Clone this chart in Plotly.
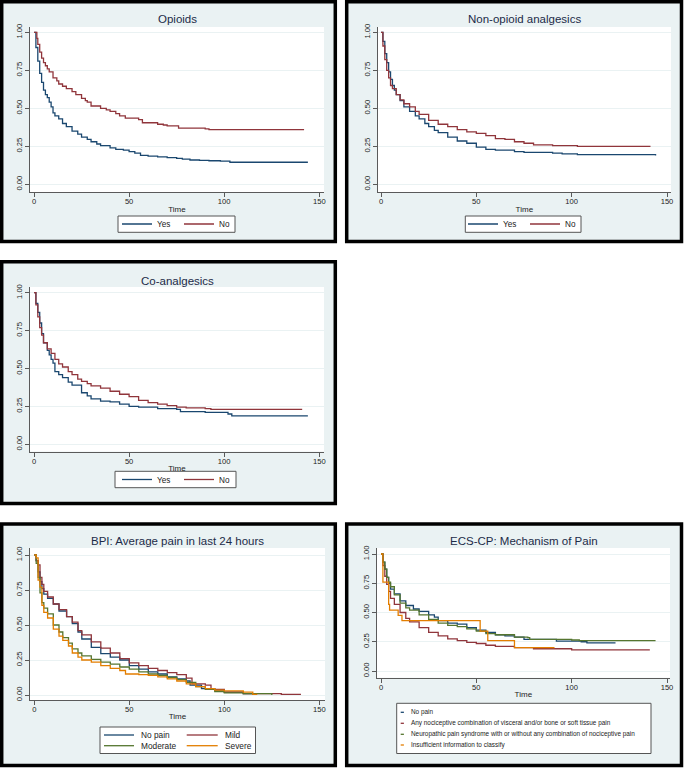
import plotly.graph_objects as go

# ---------------- data ----------------
time_ticks = [0, 50, 100, 150]
surv_ticks = [0.0, 0.25, 0.50, 0.75, 1.00]

panel_titles = ["Opioids", "Non-opioid analgesics", "Co-analgesics",
                "BPI: Average pain in last 24 hours", "ECS-CP: Mechanism of Pain"]
x_title = "Time"

yes_no_labels = ["Yes", "No"]
bpi_labels = ["No pain", "Mild", "Moderate", "Severe"]
ecs_labels = ["No pain",
              "Any nociceptive combination of visceral and/or bone or soft tissue pain",
              "Neuropathic pain syndrome with or without any combination of nociceptive pain",
              "Insufficient information to classify"]

# Opioids
opioid_yes_t = [0, 1, 2, 3, 4, 5, 6, 7, 8, 9, 10, 11, 13, 15, 17, 20, 23, 25, 28, 30, 33, 35, 40, 43, 47, 50, 53, 56, 60, 65, 70, 75, 78, 82, 87, 92, 98, 103, 144]
opioid_yes_s = [1.0, 0.90, 0.81, 0.73, 0.67, 0.62, 0.59, 0.57, 0.54, 0.51, 0.47, 0.45, 0.43, 0.40, 0.38, 0.35, 0.33, 0.31, 0.295, 0.28, 0.265, 0.255, 0.24, 0.23, 0.225, 0.215, 0.205, 0.19, 0.185, 0.18, 0.175, 0.17, 0.165, 0.16, 0.158, 0.155, 0.153, 0.145, 0.145]
opioid_no_t = [0, 1, 1.5, 2, 3, 4, 5, 6, 7, 8, 10, 12, 13, 15, 17, 20, 22, 25, 27, 28, 30, 35, 38, 40, 43, 45, 48, 55, 57, 65, 68, 70, 76, 90, 92, 142]
opioid_no_s = [1.0, 1.0, 0.96, 0.92, 0.87, 0.83, 0.80, 0.78, 0.76, 0.74, 0.70, 0.68, 0.66, 0.645, 0.63, 0.61, 0.59, 0.565, 0.55, 0.54, 0.515, 0.50, 0.49, 0.48, 0.465, 0.45, 0.435, 0.425, 0.405, 0.395, 0.39, 0.385, 0.37, 0.365, 0.36, 0.36]

# Non-opioid analgesics
nonop_yes_t = [0, 1, 2, 3, 4, 5, 6, 7, 8, 10, 12, 15, 18, 20, 23, 25, 28, 30, 35, 40, 45, 50, 55, 60, 70, 75, 90, 95, 103, 144]
nonop_yes_s = [1.0, 0.94, 0.86, 0.80, 0.74, 0.69, 0.65, 0.62, 0.59, 0.55, 0.51, 0.48, 0.45, 0.43, 0.40, 0.38, 0.355, 0.34, 0.31, 0.285, 0.27, 0.245, 0.23, 0.225, 0.215, 0.21, 0.205, 0.20, 0.195, 0.19]
nonop_no_t = [0, 1, 2, 3, 4, 5, 6, 8, 10, 12, 15, 18, 20, 25, 30, 35, 40, 45, 50, 55, 60, 65, 70, 75, 80, 90, 103, 141]
nonop_no_s = [1.0, 0.91, 0.82, 0.75, 0.70, 0.65, 0.63, 0.59, 0.555, 0.53, 0.51, 0.48, 0.46, 0.42, 0.395, 0.38, 0.36, 0.345, 0.335, 0.32, 0.30, 0.295, 0.28, 0.27, 0.26, 0.255, 0.25, 0.245]

# Co-analgesics
coan_yes_t = [0, 1, 2, 3, 4, 5, 7, 8, 9, 10, 11, 13, 15, 18, 20, 25, 28, 30, 35, 40, 45, 50, 55, 65, 75, 77, 90, 102, 104, 144]
coan_yes_s = [1.0, 0.93, 0.87, 0.80, 0.73, 0.67, 0.62, 0.59, 0.56, 0.535, 0.48, 0.46, 0.44, 0.41, 0.39, 0.34, 0.32, 0.30, 0.285, 0.28, 0.265, 0.25, 0.245, 0.235, 0.23, 0.215, 0.21, 0.20, 0.187, 0.187]
coan_no_t = [0, 1, 2, 3, 4, 5, 7, 9, 11, 13, 15, 18, 20, 23, 25, 28, 30, 35, 40, 45, 50, 55, 60, 65, 70, 75, 80, 90, 93, 141]
coan_no_s = [1.0, 0.92, 0.84, 0.77, 0.72, 0.67, 0.63, 0.60, 0.56, 0.53, 0.51, 0.48, 0.46, 0.43, 0.415, 0.40, 0.385, 0.37, 0.35, 0.33, 0.315, 0.29, 0.275, 0.265, 0.255, 0.245, 0.24, 0.235, 0.23, 0.23]

# BPI: average pain in last 24 hours
bpi_nopain_t = [0, 1, 2, 3, 4, 5, 7, 10, 13, 17, 20, 23, 25, 30, 35, 40, 45, 50, 55, 60, 65, 70, 75, 80, 82, 88, 95, 100, 110, 115]
bpi_nopain_s = [1.0, 0.96, 0.88, 0.81, 0.76, 0.72, 0.69, 0.65, 0.60, 0.56, 0.51, 0.45, 0.40, 0.34, 0.295, 0.27, 0.25, 0.21, 0.185, 0.165, 0.15, 0.13, 0.115, 0.10, 0.07, 0.045, 0.03, 0.02, 0.01, 0.0]
bpi_mild_t = [0, 1, 2, 3, 4, 5, 7, 10, 13, 17, 20, 23, 25, 30, 35, 40, 45, 50, 55, 60, 65, 70, 75, 80, 83, 90, 93, 100, 110, 130, 140]
bpi_mild_s = [1.0, 0.96, 0.93, 0.84, 0.79, 0.74, 0.70, 0.65, 0.61, 0.56, 0.52, 0.46, 0.43, 0.38, 0.335, 0.30, 0.26, 0.23, 0.21, 0.19, 0.175, 0.16, 0.145, 0.12, 0.08, 0.07, 0.04, 0.02, 0.01, 0.005, 0.0]
bpi_moderate_t = [0, 1, 2, 3, 4, 5, 7, 10, 13, 15, 18, 20, 23, 25, 30, 35, 40, 45, 50, 55, 60, 65, 70, 75, 80, 85, 90, 95, 100, 110, 125]
bpi_moderate_s = [1.0, 0.94, 0.84, 0.73, 0.66, 0.62, 0.58, 0.50, 0.45, 0.41, 0.37, 0.33, 0.30, 0.28, 0.255, 0.235, 0.22, 0.20, 0.185, 0.165, 0.15, 0.14, 0.125, 0.11, 0.09, 0.06, 0.04, 0.025, 0.015, 0.01, 0.0]
bpi_severe_t = [0, 1, 2, 3, 4, 5, 7, 10, 13, 15, 18, 20, 23, 25, 30, 35, 40, 45, 48, 55, 60, 65, 70, 75, 80, 85, 90, 95, 100, 110, 115, 117]
bpi_severe_s = [1.0, 0.98, 0.82, 0.77, 0.64, 0.59, 0.55, 0.47, 0.42, 0.39, 0.35, 0.30, 0.27, 0.25, 0.235, 0.21, 0.19, 0.175, 0.15, 0.145, 0.14, 0.13, 0.115, 0.10, 0.08, 0.06, 0.045, 0.035, 0.03, 0.02, 0.005, 0.0]

# ECS-CP: mechanism of pain
ecs_nopain_t = [0, 1, 2, 3, 4, 5, 7, 10, 13, 17, 20, 25, 28, 30, 35, 40, 45, 50, 55, 60, 65, 70, 75, 92, 105, 108, 123]
ecs_nopain_s = [1.0, 0.93, 0.87, 0.80, 0.75, 0.70, 0.66, 0.60, 0.56, 0.53, 0.51, 0.48, 0.46, 0.43, 0.41, 0.40, 0.37, 0.35, 0.33, 0.31, 0.30, 0.29, 0.27, 0.255, 0.25, 0.24, 0.24]
ecs_noci_t = [0, 1, 2, 3, 4, 5, 7, 10, 13, 15, 20, 25, 30, 35, 40, 45, 50, 55, 60, 70, 80, 100, 141]
ecs_noci_s = [1.0, 0.90, 0.81, 0.74, 0.68, 0.62, 0.57, 0.50, 0.45, 0.42, 0.37, 0.33, 0.30, 0.275, 0.26, 0.245, 0.235, 0.22, 0.21, 0.20, 0.19, 0.18, 0.18]
ecs_neuro_t = [0, 1, 2, 3, 4, 5, 7, 10, 13, 15, 20, 25, 30, 35, 40, 45, 50, 55, 60, 70, 77, 78, 100, 104, 144]
ecs_neuro_s = [1.0, 0.93, 0.87, 0.80, 0.76, 0.72, 0.65, 0.58, 0.54, 0.52, 0.48, 0.44, 0.41, 0.39, 0.38, 0.36, 0.34, 0.32, 0.31, 0.29, 0.285, 0.27, 0.265, 0.26, 0.26]
ecs_insuff_t = [0, 1, 4, 4.5, 9, 11, 52, 56, 70, 91]
ecs_insuff_s = [1.0, 0.76, 0.57, 0.52, 0.476, 0.43, 0.34, 0.26, 0.20, 0.20]

# ---------------- styling / layout ----------------
W, H = 685, 770
FONT = "Liberation Sans, Arial, sans-serif"
COLORS = ["#1A476F", "#90353B", "#55752F", "#E37E00"]
BG = "#EAF2F3"
TEXT = "#222222"
TITLE_C = "#1c2b48"
AXC = "#5a5a5a"


def fx(x):
    return x / W


def fy(y):
    return 1 - y / H


# pixel geometry of each panel
# leg: (legend left x, text-row centre y, box x0, box y0, box x1, box y1)
panels = [
    dict(frame=(1.7, 1.7, 335.3, 241.5), plot=(30, 27, 324, 192.3), xt=(34, 319.3), yt=(32.3, 184.3),
         title=(177, 19.3), leg=(117, 224, 118, 216, 235, 232.3)),
    dict(frame=(346.7, 1.7, 681.5, 241.5), plot=(377.7, 27, 671, 192.3), xt=(381, 667), yt=(32.3, 184.3),
         title=(524, 19.3), leg=(463, 224, 465.3, 216, 581, 232.3)),
    dict(frame=(1.7, 261.7, 335.3, 503.5), plot=(30, 287, 324, 451.5), xt=(34, 319.3), yt=(292.7, 444.3),
         title=(177, 280.5), leg=(117, 479.5, 115, 471.3, 236, 487.7)),
    dict(frame=(1.7, 524, 335.3, 765.5), plot=(30, 548, 325, 700), xt=(34.3, 319.3), yt=(555, 695),
         title=(177, 541), leg=None),
    dict(frame=(346.7, 524, 681.5, 765.5), plot=(376.7, 548, 670, 677.7), xt=(381, 667), yt=(554, 671),
         title=(524, 541), leg=None),
]

series = [
    [(yes_no_labels[0], opioid_yes_t, opioid_yes_s), (yes_no_labels[1], opioid_no_t, opioid_no_s)],
    [(yes_no_labels[0], nonop_yes_t, nonop_yes_s), (yes_no_labels[1], nonop_no_t, nonop_no_s)],
    [(yes_no_labels[0], coan_yes_t, coan_yes_s), (yes_no_labels[1], coan_no_t, coan_no_s)],
    [(bpi_labels[0], bpi_nopain_t, bpi_nopain_s), (bpi_labels[1], bpi_mild_t, bpi_mild_s),
     (bpi_labels[2], bpi_moderate_t, bpi_moderate_s), (bpi_labels[3], bpi_severe_t, bpi_severe_s)],
    [(ecs_labels[0], ecs_nopain_t, ecs_nopain_s), (ecs_labels[1], ecs_noci_t, ecs_noci_s),
     (ecs_labels[2], ecs_neuro_t, ecs_neuro_s), (ecs_labels[3], ecs_insuff_t, ecs_insuff_s)],
]

fig = go.Figure()
shapes = []
annotations = []
layout = dict(width=W, height=H, margin=dict(l=0, r=0, t=0, b=0, pad=0, autoexpand=False),
              paper_bgcolor="white", plot_bgcolor="white",
              font=dict(family=FONT, color=TEXT), hovermode=False)

# frames first, then white plot regions
for p in panels:
    x0, y0, x1, y1 = p["frame"]
    shapes.append(dict(type="rect", xref="paper", yref="paper", x0=fx(x0), x1=fx(x1), y0=fy(y1), y1=fy(y0),
                       fillcolor=BG, line=dict(color="black", width=3.5), layer="below"))
for p in panels:
    L, T, R, B = p["plot"]
    shapes.append(dict(type="rect", xref="paper", yref="paper", x0=fx(L), x1=fx(R), y0=fy(B), y1=fy(T),
                       fillcolor="white", line=dict(width=0), layer="below"))

for i, (p, ser) in enumerate(zip(panels, series), start=1):
    sfx = "" if i == 1 else str(i)
    L, T, R, B = p["plot"]
    a, b = p["xt"]
    k = (b - a) / (time_ticks[-1] - time_ticks[0])
    xr = [(L - a) / k, (R - a) / k]
    y1p, y0p = p["yt"]
    ky = y0p - y1p
    yr = [(y0p - B) / ky, (y0p - T) / ky]

    layout["xaxis" + sfx] = dict(domain=[fx(L), fx(R)], anchor="y" + sfx, range=xr,
                                 tickvals=time_ticks, showgrid=False, zeroline=False,
                                 showline=True, linecolor=AXC, linewidth=1,
                                 ticks="outside", ticklen=4, tickwidth=1, tickcolor=AXC,
                                 ticklabelstandoff=-2,
                                 tickfont=dict(size=7.6, color=TEXT),
                                 title=dict(text=x_title, font=dict(size=8, color=TEXT), standoff=0))
    layout["yaxis" + sfx] = dict(domain=[fy(B), fy(T)], anchor="x" + sfx, range=yr,
                                 tickvals=surv_ticks, tickformat=".2f", tickangle=-90,
                                 showgrid=True, gridcolor=BG, gridwidth=1, zeroline=False,
                                 showline=True, linecolor=AXC, linewidth=1,
                                 ticks="outside", ticklen=4, tickwidth=1, tickcolor=AXC,
                                 tickfont=dict(size=7.6, color=TEXT))

    tx, ty = p["title"]
    annotations.append(dict(text=panel_titles[i - 1], xref="paper", yref="paper", x=fx(tx), y=fy(ty),
                            xanchor="center", yanchor="middle", showarrow=False,
                            font=dict(size=11.5, color=TITLE_C, family=FONT)))

    leg_name = None
    if p["leg"] is not None:
        leg_name = "legend" if i == 1 else "legend" + str(i)
        lx, rowc, bx0, by0, bx1, by1 = p["leg"]
        shapes.append(dict(type="rect", xref="paper", yref="paper", x0=fx(bx0), x1=fx(bx1),
                           y0=fy(by1), y1=fy(by0), fillcolor="white",
                           line=dict(color="#555555", width=1), layer="below"))
        layout[leg_name] = dict(orientation="h", x=fx(lx), y=fy(rowc - 14.5), xanchor="left", yanchor="top",
                                xref="paper", yref="paper", bgcolor="rgba(0,0,0,0)", borderwidth=0,
                                font=dict(size=8.2, color=TEXT, family=FONT),
                                entrywidth=17, entrywidthmode="pixels", itemwidth=30,
                                itemclick=False, itemdoubleclick=False)

    for j, (name, t, s) in enumerate(ser):
        tr = dict(x=t, y=s, mode="lines", line=dict(color=COLORS[j], width=1.3, shape="hv"),
                  name=name, xaxis="x" + sfx, yaxis="y" + sfx)
        if leg_name:
            tr["legend"] = leg_name
            tr["showlegend"] = True
        else:
            tr["showlegend"] = False
        fig.add_trace(go.Scatter(**tr))

# keyed legends for the two bottom panels (compact rows like the original)
bpi_key = dict(box=(100, 727, 255.5, 753.5),
               items=[(104, 134, 139.3, 735), (186.7, 217.7, 223.3, 735),
                      (104, 134, 139.3, 745.7), (186.7, 217.7, 223.3, 745.7)], size=8.3)
ecs_key = dict(box=(396.7, 703.3, 651, 753.5),
               items=[(400.7, 403.9, 408.7, 712.3), (400.7, 403.9, 408.7, 723.3),
                      (400.7, 403.9, 408.7, 734.3), (400.7, 403.9, 408.7, 745)], size=6.4)

for key, labels in ((bpi_key, bpi_labels), (ecs_key, ecs_labels)):
    x0, y0, x1, y1 = key["box"]
    shapes.append(dict(type="rect", xref="paper", yref="paper", x0=fx(x0), x1=fx(x1), y0=fy(y1), y1=fy(y0),
                       fillcolor="white", line=dict(color="#555555", width=1), layer="below"))
    for j, ((lx0, lx1, tx, ry), lab) in enumerate(zip(key["items"], labels)):
        shapes.append(dict(type="line", xref="paper", yref="paper", x0=fx(lx0), x1=fx(lx1),
                           y0=fy(ry), y1=fy(ry), line=dict(color=COLORS[j], width=1.3)))
        annotations.append(dict(text=lab, xref="paper", yref="paper", x=fx(tx), y=fy(ry),
                                xanchor="left", yanchor="middle", showarrow=False,
                                font=dict(size=key["size"], color=TEXT, family=FONT)))

layout["shapes"] = shapes
layout["annotations"] = annotations
fig.update_layout(**layout)
fig.write_html("out.html", config={"displayModeBar": False},
               post_script="document.body.style.margin='0px';document.body.style.overflow='hidden';")
